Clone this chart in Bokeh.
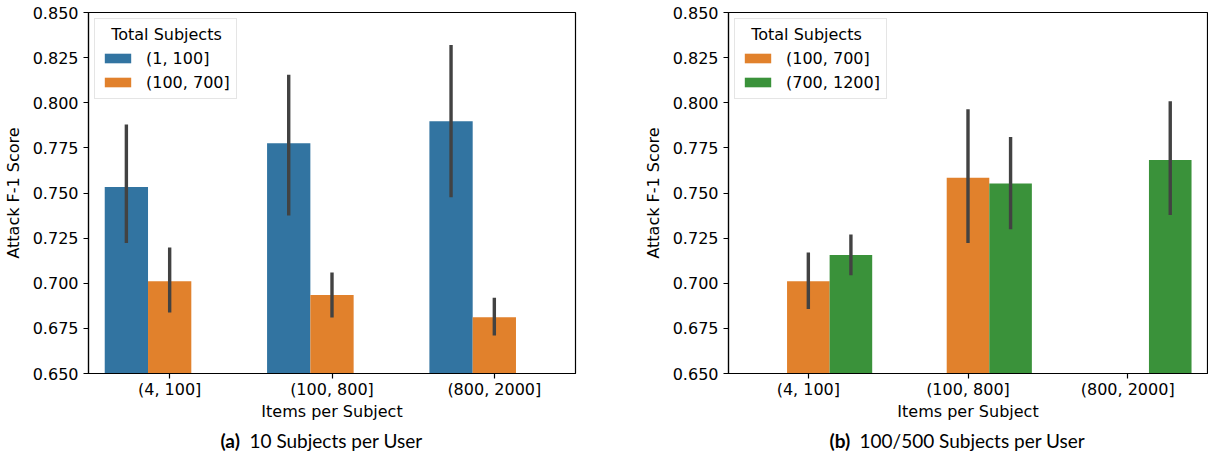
from bokeh.plotting import figure
from bokeh.models import (Range1d, FixedTicker, PrintfTickFormatter, Legend,
                          LegendItem)
from bokeh.layouts import row, column
from bokeh.core.properties import value
from bokeh.embed import file_html
from bokeh.resources import INLINE

# ---------------- data ----------------
categories = ["(4, 100]", "(100, 800]", "(800, 2000]"]
hue_levels = ["(1, 100]", "(100, 700]", "(700, 1200]"]
y_ticks = [0.650, 0.675, 0.700, 0.725, 0.750, 0.775, 0.800, 0.825, 0.850]

# (a) 10 Subjects per User
a_1_100_cats = [0, 1, 2]
a_1_100_mean = [0.7533, 0.7776, 0.7898]
a_1_100_lo = [0.7223, 0.7376, 0.7477]
a_1_100_hi = [0.7880, 0.8155, 0.8320]

a_100_700_cats = [0, 1, 2]
a_100_700_mean = [0.7011, 0.6935, 0.6812]
a_100_700_lo = [0.6838, 0.6810, 0.6711]
a_100_700_hi = [0.7198, 0.7060, 0.6920]

# (b) 100/500 Subjects per User
b_100_700_cats = [0, 1]
b_100_700_mean = [0.7011, 0.7584]
b_100_700_lo = [0.6858, 0.7223]
b_100_700_hi = [0.7170, 0.7964]

b_700_1200_cats = [0, 1, 2]
b_700_1200_mean = [0.7156, 0.7552, 0.7683]
b_700_1200_lo = [0.7045, 0.7299, 0.7378]
b_700_1200_hi = [0.7270, 0.7810, 0.8008]

caption_tags = ["(a)", "(b)"]
caption_texts = ["10 Subjects per User", "100/500 Subjects per User"]

colors = {"(1, 100]": "#3274a1", "(100, 700]": "#e1812c", "(700, 1200]": "#3a923a"}
ERR_COLOR = "#424242"
FONT = "DejaVu Sans"
CAP_FONT = "Lato"

BAR_W = 0.8 / len(hue_levels)
MAIN_H = 425
CAP_H = 26
W1 = 640
W2 = 568


def make_panel(width, bl, br, series):
    p = figure(width=width, height=MAIN_H,
               x_range=Range1d(-0.5, 2.5), y_range=Range1d(0.65, 0.85),
               output_backend="svg", toolbar_location=None,
               min_border_left=bl, min_border_right=br,
               min_border_top=12, min_border_bottom=52)
    p.xgrid.visible = False
    p.ygrid.visible = False
    p.outline_line_color = "black"
    p.outline_line_width = 1.2
    p.outline_line_alpha = 1.0
    p.background_fill_color = "white"
    p.border_fill_color = "white"

    items = []
    for name, cats, mean, lo, hi in series:
        j = hue_levels.index(name)
        xs = [c + (j - 1) * BAR_W for c in cats]
        r = p.vbar(x=xs, top=mean, bottom=0.0, width=BAR_W,
                   fill_color=colors[name], line_color=None)
        p.segment(x0=xs, x1=xs, y0=lo, y1=hi, line_color=ERR_COLOR,
                  line_width=3.4)
        items.append(LegendItem(label=name, renderers=[r]))

    legend = Legend(items=items, location="top_left",
                    title="\u00a0\u00a0Total Subjects",
                    title_text_font=FONT, title_text_font_size="16px",
                    title_text_font_style="normal", title_text_color="black",
                    title_standoff=4,
                    label_text_font=FONT, label_text_font_size="16px",
                    label_text_color="black",
                    glyph_width=33, glyph_height=12, label_standoff=12,
                    label_height=20, spacing=4, padding=6, margin=6,
                    border_line_color="#cccccc", border_line_width=1,
                    background_fill_color="white", background_fill_alpha=0.8)
    p.add_layout(legend)

    for ax in (p.xaxis[0], p.yaxis[0]):
        ax.axis_line_color = "black"
        ax.axis_line_width = 1.2
        ax.major_tick_line_color = "black"
        ax.major_tick_line_width = 1.2
        ax.major_tick_out = 5
        ax.major_tick_in = 0
        ax.minor_tick_out = 0
        ax.minor_tick_in = 0
        ax.minor_tick_line_color = None
        ax.major_label_text_font = FONT
        ax.major_label_text_font_size = "16px"
        ax.major_label_text_color = "black"
        ax.axis_label_text_font = FONT
        ax.axis_label_text_font_size = "16px"
        ax.axis_label_text_font_style = "normal"
        ax.axis_label_text_color = "black"

    p.xaxis.ticker = FixedTicker(ticks=list(range(len(categories))))
    p.xaxis.major_label_overrides = {i: c for i, c in enumerate(categories)}
    p.xaxis.axis_label = "Items per Subject"
    p.xaxis.major_label_standoff = 1
    p.xaxis.axis_label_standoff = 0

    p.yaxis.ticker = FixedTicker(ticks=y_ticks)
    p.yaxis.formatter = PrintfTickFormatter(format="%.3f")
    p.yaxis.axis_label = "Attack F-1 Score"
    p.yaxis.major_label_standoff = 5
    p.yaxis.axis_label_standoff = 7
    return p


p1 = make_panel(W1, 86, 65,
                [("(1, 100]", a_1_100_cats, a_1_100_mean, a_1_100_lo, a_1_100_hi),
                 ("(100, 700]", a_100_700_cats, a_100_700_mean, a_100_700_lo, a_100_700_hi)])
p2 = make_panel(W2, 80, 1,
                [("(100, 700]", b_100_700_cats, b_100_700_mean, b_100_700_lo, b_100_700_hi),
                 ("(700, 1200]", b_700_1200_cats, b_700_1200_mean, b_700_1200_lo, b_700_1200_hi)])

# caption strip (pixel coordinates across the full width)
cap = figure(width=W1 + W2, height=CAP_H, x_range=Range1d(0, W1 + W2),
             y_range=Range1d(0, CAP_H), output_backend="svg",
             toolbar_location=None, min_border=0,
             x_axis_location=None, y_axis_location=None)
cap.xgrid.visible = False
cap.ygrid.visible = False
cap.outline_line_color = None
cap.background_fill_color = "white"
cap.border_fill_color = "white"
tag_x = [220, 829]
text_x = [249, 859]
base_y = [11.5, 11.5]
cap.text(x=tag_x, y=base_y, text=caption_tags, text_font=value(CAP_FONT),
         text_font_size="19px", text_font_style="bold", text_color="black",
         text_align="left", text_baseline="alphabetic")
cap.text(x=text_x, y=base_y, text=caption_texts, text_font=value(CAP_FONT),
         text_font_size="19px", text_font_style="normal", text_color="black",
         text_align="left", text_baseline="alphabetic")

layout = column(row(p1, p2), cap)
open("out.html", "w").write(file_html(layout, INLINE))
